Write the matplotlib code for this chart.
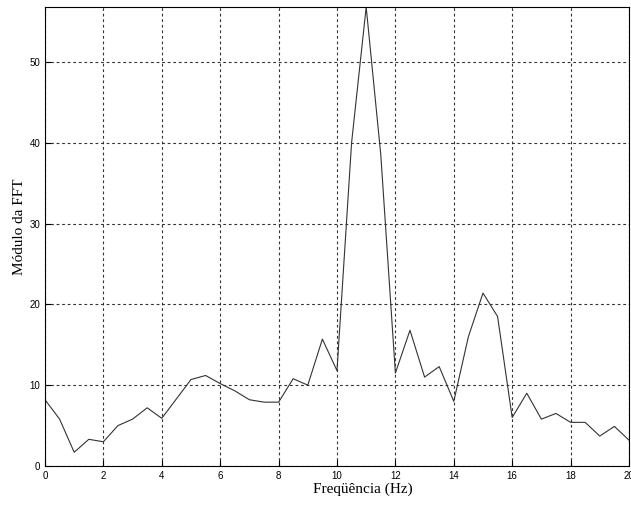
import numpy as np
import matplotlib
matplotlib.use("Agg")
import matplotlib.pyplot as plt

# FFT magnitude sampled every 0.5 Hz
freq = np.arange(0, 20.5, 0.5)
modulo = [8.2, 5.8, 1.7, 3.3, 3.0, 5.0, 5.8, 7.2, 5.9, 8.3,
          10.7, 11.2, 10.2, 9.3, 8.2, 7.9, 7.9, 10.8, 10.0, 15.7,
          11.8, 40.0, 56.8, 38.5, 11.5, 16.8, 11.0, 12.3, 8.0, 16.0,
          21.4, 18.5, 6.0, 9.0, 5.8, 6.5, 5.4, 5.4, 3.7, 4.9, 3.2]

xticks = np.arange(0, 21, 2)
yticks = np.arange(0, 60, 10)

fig = plt.figure(figsize=(6.31, 5.07), dpi=100)
ax = fig.add_axes([0.0713, 0.0809, 0.9255, 0.9053])

ax.plot(freq, modulo, color='#333333', lw=0.8)

ax.set_xlim(0, 20)
ax.set_ylim(0, max(modulo))
ax.set_xticks(xticks)
ax.set_yticks(yticks)
ax.tick_params(direction='in', labelsize=7, length=4, width=0.8)
for lbl in ax.get_xticklabels() + ax.get_yticklabels():
    lbl.set_family('Liberation Sans')
ax.grid(True, color='#333333', linestyle=(0, (2.5, 2.5)), linewidth=0.8)
for s in ax.spines.values():
    s.set_linewidth(0.8)

ax.set_xlabel('Freqüência (Hz)', family='Liberation Serif', fontsize=11)
ax.set_ylabel('Módulo da FFT', family='Liberation Serif', fontsize=11, va='center')
ax.xaxis.set_label_coords(0.545, -0.035)
ax.yaxis.set_label_coords(-0.0445, 0.522)

fig.savefig('out.png', dpi=100)
